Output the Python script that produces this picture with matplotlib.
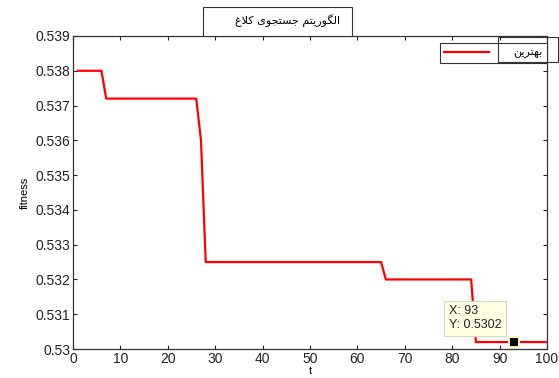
import numpy as np
import matplotlib
matplotlib.use("Agg")
import matplotlib.pyplot as plt
from matplotlib.patches import Rectangle

# data
t = [1, 6, 7, 26, 27, 28, 65, 66, 84, 85, 100]
fitness = [0.5380, 0.5380, 0.5372, 0.5372, 0.5360, 0.5325, 0.5325, 0.5320, 0.5320, 0.5302, 0.5302]
tip_x = 93
tip_y = 0.5302
xticks = [0, 10, 20, 30, 40, 50, 60, 70, 80, 90, 100]
yticks = [0.53, 0.531, 0.532, 0.533, 0.534, 0.535, 0.536, 0.537, 0.538, 0.539]
title_txt = "الگوریتم جستجوی کلاغ"
legend_txt = "بهترین"


# matplotlib has no arabic shaping, so pick presentation forms by hand
FORMS = {
    "ا": (0xFE8D, 0xFE8E, None, None),
    "ل": (0xFEDD, 0xFEDE, 0xFEDF, 0xFEE0),
    "گ": (0xFB92, 0xFB93, 0xFB94, 0xFB95),
    "و": (0xFEED, 0xFEEE, None, None),
    "ر": (0xFEAD, 0xFEAE, None, None),
    "ی": (0xFBFC, 0xFBFD, 0xFBFE, 0xFBFF),
    "ت": (0xFE95, 0xFE96, 0xFE97, 0xFE98),
    "م": (0xFEE1, 0xFEE2, 0xFEE3, 0xFEE4),
    "ج": (0xFE9D, 0xFE9E, 0xFE9F, 0xFEA0),
    "س": (0xFEB1, 0xFEB2, 0xFEB3, 0xFEB4),
    "ک": (0xFB8E, 0xFB8F, 0xFB90, 0xFB91),
    "غ": (0xFECD, 0xFECE, 0xFECF, 0xFED0),
    "ب": (0xFE8F, 0xFE90, 0xFE91, 0xFE92),
    "ه": (0xFEE9, 0xFEEA, 0xFEEB, 0xFEEC),
    "ن": (0xFEE5, 0xFEE6, 0xFEE7, 0xFEE8),
}


def joins_left(c):
    return c in FORMS and FORMS[c][2] is not None


def shape(s):
    out = []
    i = 0
    while i < len(s):
        c = s[i]
        if c not in FORMS:
            out.append(c)
            i += 1
            continue
        prev = s[i - 1] if i > 0 else " "
        jp = joins_left(prev)
        if c == "ل" and i + 1 < len(s) and s[i + 1] == "ا":
            out.append(chr(0xFEFC if jp else 0xFEFB))
            i += 2
            continue
        nxt = s[i + 1] if i + 1 < len(s) else " "
        jn = joins_left(c) and nxt in FORMS
        f = FORMS[c]
        if jp and jn:
            code = f[3]
        elif jp:
            code = f[1]
        elif jn:
            code = f[2]
        else:
            code = f[0]
        out.append(chr(code))
        i += 1
    return "".join(out)[::-1]


plt.rcParams['font.family'] = ['Liberation Sans', 'DejaVu Sans']

fig = plt.figure(figsize=(5.59, 3.78), dpi=100)
ax = fig.add_axes([0.1306, 0.0767, 0.8479, 0.8281])

ax.plot(t, fitness, color='red', lw=1.6, label=shape(legend_txt))
ax.plot([tip_x], [tip_y], 's', color='black', ms=7, mec='#fbf8c8', mew=1.5)

ax.set_xlim(0, 100)
ax.set_ylim(0.53, 0.539)
ax.set_xticks(xticks)
ax.set_yticks(yticks)
ax.set_yticklabels([('%.3f' % v).rstrip('0') for v in yticks])
ax.tick_params(direction='in', length=3, top=True, right=True, labelsize=10,
               colors='#222222', pad=2)
for s in ax.spines.values():
    s.set_color('#333333')
    s.set_linewidth(0.9)

ax.set_ylabel('fitness', fontsize=8, labelpad=4)
ax.set_xlabel('t', fontsize=8, labelpad=0)

# data tip box
ax.text(79.3, 0.53089, 'X: 93\nY: 0.5302', fontsize=9, va='center', ha='left',
        linespacing=1.25, color='#222222',
        bbox=dict(boxstyle='square,pad=0.35', fc='#ffffe4', ec='#d8d8c0', lw=0.8))

# legend
leg = ax.legend(loc='upper right', bbox_to_anchor=(547 / 559, 1 - 43 / 378),
                bbox_transform=fig.transFigure, borderaxespad=0, fancybox=False,
                framealpha=1, edgecolor='#333333', handlelength=4.0,
                handletextpad=2.2, borderpad=0.4,
                prop={'family': 'DejaVu Sans', 'size': 8})
leg.get_frame().set_linewidth(0.8)
fig.patches.append(Rectangle((498 / 559, 1 - 62 / 378), 60 / 559, 25 / 378,
                             transform=fig.transFigure, fill=False,
                             ec='#333333', lw=0.8))

# title box
fig.patches.append(Rectangle((203 / 559, 1 - 36 / 378), 149 / 559, 29 / 378,
                             transform=fig.transFigure, fc='white',
                             ec='#333333', lw=0.8, zorder=5))
fig.text(340 / 559, 1 - 21 / 378, shape(title_txt), ha='right', va='center',
         fontsize=8, family='DejaVu Sans', zorder=6)

fig.savefig('out.png', dpi=100)
